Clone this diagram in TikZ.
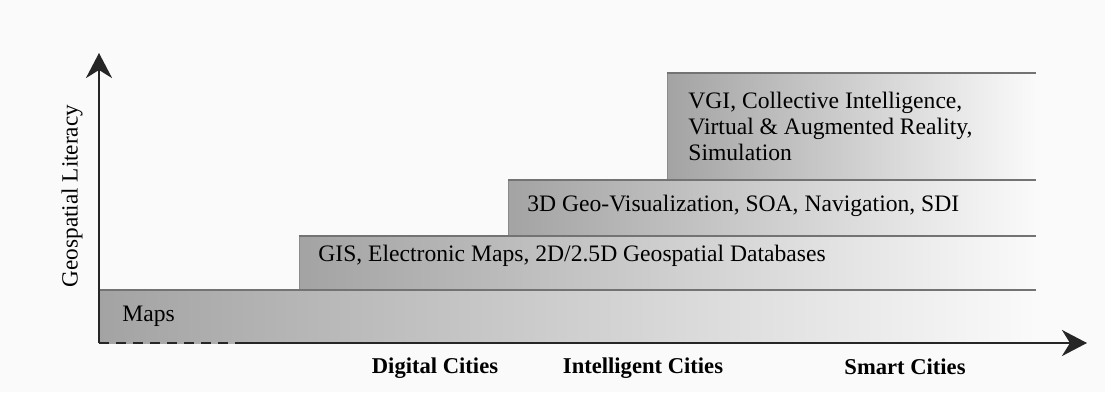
\documentclass[tikz,border=0pt]{standalone}
\usepackage{fontspec}
\setmainfont{Liberation Serif}
\usetikzlibrary{arrows.meta}

\definecolor{paper}{gray}{0.98}
\definecolor{bandgray}{gray}{0.64}
\definecolor{edgegray}{gray}{0.45}
\definecolor{axisgray}{gray}{0.15}

\begin{document}
\begin{tikzpicture}[x=0.5pt, y=-0.5pt,
    band/.style={left color=bandgray, right color=paper},
    bandtop/.style={draw=edgegray, line width=1pt},
    bandside/.style={draw=bandgray!85!black, line width=0.4pt},
    axis/.style={draw=axisgray, line width=1.3pt},
    axistip/.style={-{Stealth[length=12.5pt, width=13pt, inset=4pt]}},
    bandtext/.style={anchor=west, inner sep=0pt, align=left, font=\fontsize{11.8}{13}\selectfont},
    citytext/.style={inner sep=0pt, font=\fontsize{11.3}{13}\selectfont\bfseries}]

    \useasboundingbox[fill=paper] (0, 0) rectangle (1105, 392);

    % these are the bands
    \shade[band] (99, 290) rectangle (1036, 343);
    \shade[band] (299, 236) rectangle (1036, 290);
    \shade[band] (508, 180) rectangle (1036, 236);
    \shade[band] (667, 73) rectangle (1036, 180);

    \draw[bandside] (299, 290) -- (299, 236);
    \draw[bandside] (508, 236) -- (508, 180);
    \draw[bandside] (667, 180) -- (667, 73);

    \draw[bandtop] (99, 290) -- (1036, 290);
    \draw[bandtop] (299, 236) -- (1036, 236);
    \draw[bandtop] (508, 180) -- (1036, 180);
    \draw[bandtop] (667, 73) -- (1036, 73);

    % band labels
    \node[bandtext] (maps) at (122, 316) {Maps};
    \node[bandtext] (gis) at (318, 256) {GIS, Electronic Maps, 2D/2.5D Geospatial Databases};
    \node[bandtext] (sdi) at (527, 206) {3D Geo-Visualization, SOA, Navigation, SDI};
    \node[bandtext] (vgi) at (688, 126) {VGI, Collective Intelligence,\\Virtual \& Augmented Reality,\\Simulation};

    % the axes
    \coordinate (origin) at (99, 343);
    \coordinate (ytip) at (99, 53);
    \coordinate (dashend) at (243, 343);
    \coordinate (xtip) at (1087, 343);

    \draw[axis, axistip] (origin) -- (ytip);
    \draw[axis, dash pattern=on 5pt off 3.5pt] (origin) -- (dashend);
    \draw[axis, axistip] (dashend) -- (xtip);

    \node[inner sep=0pt, rotate=90, font=\fontsize{11.6}{13}\selectfont] (literacy) at (72, 196) {Geospatial Literacy};

    \node[citytext] (digital) at (435, 368) {Digital Cities};
    \node[citytext] (intelligent) at (643, 368) {Intelligent Cities};
    \node[citytext] (smart) at (905, 367) {Smart Cities};

\end{tikzpicture}
\end{document}
